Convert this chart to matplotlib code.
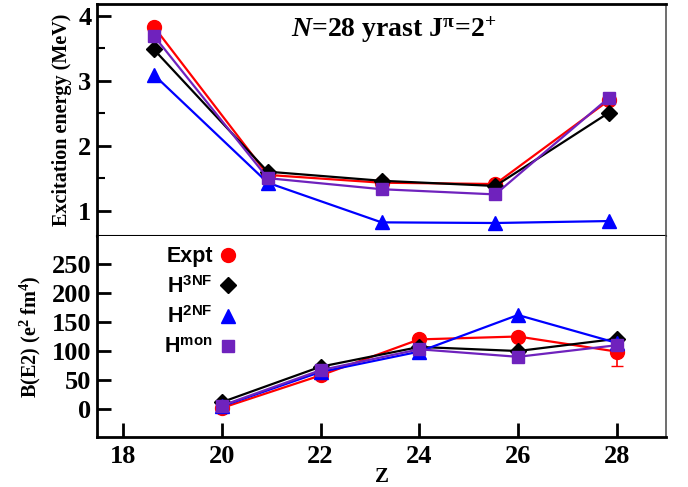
import matplotlib
matplotlib.use('Agg')
import matplotlib.pyplot as plt
from matplotlib.ticker import MultipleLocator, FixedLocator, NullLocator
from matplotlib.lines import Line2D

plt.rcParams['font.family'] = ['Liberation Serif', 'DejaVu Serif']
plt.rcParams['font.weight'] = 'bold'
plt.rcParams['mathtext.fontset'] = 'custom'
plt.rcParams['mathtext.rm'] = 'Liberation Serif:bold'
plt.rcParams['mathtext.it'] = 'Liberation Serif:bold:italic'
plt.rcParams['mathtext.bf'] = 'Liberation Serif:bold'
plt.rcParams['mathtext.sf'] = 'Liberation Sans:bold'

# ---------------- data ----------------
Z = [20, 22, 24, 26, 28]
top_pos = [0, 1, 2, 3, 4]          # evenly spaced nuclei in upper panel
E_expt = [3.83, 1.55, 1.43, 1.41, 2.70]
E_3nf = [3.48, 1.60, 1.46, 1.38, 2.51]
E_2nf = [3.09, 1.43, 0.82, 0.81, 0.84]
E_mon = [3.69, 1.50, 1.33, 1.25, 2.74]

B_expt = [2, 58, 120, 125, 99]
B_expt_err = [0, 0, 0, 0, 24]
B_3nf = [12, 73, 107, 100, 121]
B_2nf = [5, 64, 99, 162, 114]
B_mon = [6, 67, 103, 90, 110]

labels = ['Expt', r'H$^{\mathsf{3NF}}$', r'H$^{\mathsf{2NF}}$', r'H$^{\mathsf{mon}}$']
colors = ['#ff0000', '#000000', '#0000ff', '#6f22bd']
markers = ['o', 'D', '^', 's']
msizes = [10, 8, 10, 9]
z_ticks = [18, 20, 22, 24, 26, 28]

W, H = 688, 487
fig = plt.figure(figsize=(W / 100, H / 100), dpi=100)

L, R = 97, 666
ax1 = fig.add_axes([L / W, 1 - 236 / H, (R - L) / W, (236 - 4) / H])
ax2 = fig.add_axes([L / W, 1 - 437 / H, (R - L) / W, (437 - 236) / H])

E_sets = [E_expt, E_3nf, E_2nf, E_mon]
B_sets = [B_expt, B_3nf, B_2nf, B_mon]
order = [0, 2, 1, 3]
for i in order:
    ax1.plot(top_pos, E_sets[i], color=colors[i], marker=markers[i], ms=msizes[i],
             lw=1.6, mec=colors[i], zorder=3 + i)
for i in order:
    if i == 0:
        ax2.errorbar(Z, B_sets[i], yerr=B_expt_err, color=colors[i], marker=markers[i],
                     ms=msizes[i], lw=1.6, capsize=4, elinewidth=1.2, zorder=3)
    else:
        ax2.plot(Z, B_sets[i], color=colors[i], marker=markers[i], ms=msizes[i],
                 lw=1.6, zorder=3 + i)

# upper axes
ax1.set_xlim(-0.5, 4.5)
ax1.set_ylim(0.61, 4.18)
ax1.xaxis.set_major_locator(NullLocator())
ax1.yaxis.set_major_locator(FixedLocator([1, 2, 3, 4]))
ax1.yaxis.set_minor_locator(MultipleLocator(0.5))
ax1.tick_params(axis='y', which='major', direction='in', length=10, width=2,
                labelsize=19, pad=4)
ax1.tick_params(axis='y', which='minor', direction='in', length=6, width=1.5)
ax1.set_ylabel('Excitation energy (MeV)', fontsize=14.5, fontweight='bold')
ax1.yaxis.set_label_coords(-0.044, 0.5)

# lower axes
ax2.set_xlim(17.47, 29.0)
ax2.set_ylim(-48, 298)
ax2.xaxis.set_major_locator(FixedLocator(z_ticks))
ax2.set_yticks([0, 50, 100, 150, 200, 250])
ax2.tick_params(axis='both', which='major', direction='in', length=10, width=2,
                labelsize=19)
ax2.tick_params(axis='y', pad=4)
ax2.tick_params(axis='x', pad=6)
ax2.set_ylabel(r'B(E2) (e$^{2}$ fm$^{4}$)', fontsize=14.5, fontweight='bold')
ax2.yaxis.set_label_coords(-0.095, 0.5)
ax2.set_xlabel('Z', fontsize=15, fontweight='bold')
ax2.xaxis.set_label_coords(0.5, -0.15)
ax2.xaxis.label.set_va('top')

for ax in (ax1, ax2):
    ax.spines['left'].set_linewidth(2)
    ax.spines['right'].set_linewidth(1.2)
    ax.spines['right'].set_color('#555555')
ax1.spines['top'].set_linewidth(2)
ax1.spines['bottom'].set_linewidth(1.5)
ax2.spines['top'].set_visible(False)
ax2.spines['bottom'].set_linewidth(2)

fig.text(394 / W, 1 - 37 / H, r'$\mathit{N}$=28 yrast J$^{\mathrm{\pi}}$=2$^{+}$',
         ha='center', va='baseline', fontsize=20, fontweight='bold')

handles = [Line2D([], [], color=colors[i], marker=markers[i], ms=msizes[i], ls='None')
           for i in range(4)]
ax2.legend(handles, labels, loc='upper left', bbox_to_anchor=(0.118, 0.95),
           frameon=False, markerfirst=False, handlelength=0.6, handletextpad=0.4,
           labelspacing=0.42, borderpad=0, borderaxespad=0,
           prop={'family': 'Liberation Sans', 'weight': 'bold', 'size': 15.5})

fig.savefig('out.png', dpi=100)
